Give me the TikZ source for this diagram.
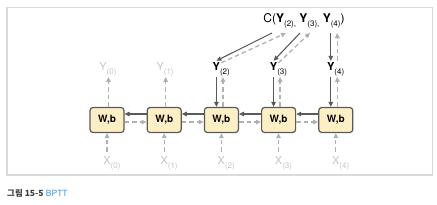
\documentclass[tikz,border=0pt]{standalone}
\usepackage{fontspec}
\setmainfont{TeX Gyre Heros}
\newfontfamily\krfont{Noto Sans CJK KR}
\usepackage{tikz}
\usetikzlibrary{
	positioning,
	arrows.meta
}
\definecolor{cellfill}{HTML}{FCEFC6}
\definecolor{celldraw}{HTML}{5A5A5A}
\definecolor{fwdgray}{HTML}{B0B0B0}
\definecolor{labelgray}{HTML}{C4C4C4}
\definecolor{framegray}{HTML}{DADADA}
\definecolor{capgray}{HTML}{3C3C3C}
\definecolor{capblue}{HTML}{3F8FD2}
\newcommand{\tidx}[1]{\raisebox{-4pt}{\fontsize{8}{9}\selectfont\mdseries #1}}

\begin{document}
\begin{tikzpicture}[
			x=1pt, y=-1pt,
			node distance=22pt,
			cell/.style={
				draw=celldraw,
				line width=1.2pt,
				rounded corners=3pt,
				fill=cellfill,
				minimum width=34pt,
				minimum height=25pt,
				inner sep=0pt,
				font=\fontsize{10}{12}\selectfont\bfseries
			},
			yout/.style={inner sep=1pt, anchor=base, font=\fontsize{11}{13}\selectfont\bfseries},
			faded/.style={inner sep=1pt, anchor=base, text=labelgray, font=\fontsize{11}{13}\selectfont},
			back/.style={-{Triangle[length=5pt,width=4.5pt]}, draw=celldraw, line width=1.1pt},
			fwd/.style={-{Triangle[length=5pt,width=4.5pt]}, draw=fwdgray, line width=1.3pt, dash pattern=on 4.5pt off 3pt}
			]
			
			\useasboundingbox (0,0) rectangle (437,204);
			\draw[draw=framegray, line width=1.5pt] (7,7.5) rectangle (432.5,175);
			
			\node[cell] (w0) at (107,120) {W,b};
			\node[cell,right=of w0] (w1) {W,b};
			\node[cell,right=of w1] (w2) {W,b};
			\node[cell,right=of w2] (w3) {W,b};
			\node[cell,right=of w3] (w4) {W,b};
			
			\node[faded] (x0) at (w0 |- 0,164) {X\rlap{\tidx{(0)}}};
			\node[faded] (x1) at (w1 |- 0,164) {X\rlap{\tidx{(1)}}};
			\node[faded] (x2) at (w2 |- 0,164) {X\rlap{\tidx{(2)}}};
			\node[faded] (x3) at (w3 |- 0,164) {X\rlap{\tidx{(3)}}};
			\node[faded] (x4) at (w4 |- 0,164) {X\rlap{\tidx{(4)}}};
			
			\node[faded] (y0) at ([xshift=-4pt]w0.north |- 0,70) {Y\rlap{\tidx{(0)}}};
			\node[faded] (y1) at ([xshift=-4pt]w1.north |- 0,70) {Y\rlap{\tidx{(1)}}};
			\node[yout] (y2) at ([xshift=-5pt]w2.north |- 0,70) {Y\rlap{\tidx{(2)}}};
			\node[yout] (y3) at ([xshift=-5pt]w3.north |- 0,70) {Y\rlap{\tidx{(3)}}};
			\node[yout] (y4) at ([xshift=-5pt]w4.north |- 0,70) {Y\rlap{\tidx{(4)}}};
			
			\node[inner sep=1pt, anchor=base, font=\fontsize{12}{14}\selectfont] (cost) at (304,22)
			{C(\textbf{Y}\tidx{(2),} \textbf{Y}\tidx{(3),} \textbf{Y}\tidx{(4)})};
			
			\coordinate (c2a) at (272,33);
			\coordinate (c2b) at (286,33);
			\coordinate (c3a) at (300,33);
			\coordinate (c3b) at (310,33);
			
			\draw[fwd,shorten <=3pt] (x0) -- (w0);
			\draw[fwd,shorten <=3pt] (x1) -- (w1);
			\draw[fwd,shorten <=3pt] (x2) -- (w2);
			\draw[fwd,shorten <=3pt] (x3) -- (w3);
			\draw[fwd,shorten <=3pt] (x4) -- (w4);
			
			\draw[fwd] ([xshift=1.5pt]w0.north) -- ([xshift=1.5pt]w0.north |- y0.south);
			\draw[fwd] ([xshift=1.5pt]w1.north) -- ([xshift=1.5pt]w1.north |- y1.south);
			\draw[fwd] ([xshift=1.5pt]w2.north) -- ([xshift=1.5pt]w2.north |- y2.south);
			\draw[fwd] ([xshift=1.5pt]w3.north) -- ([xshift=1.5pt]w3.north |- y3.south);
			\draw[fwd] ([xshift=1.5pt]w4.north) -- ([xshift=1.5pt]w4.north |- y4.south);
			
			\draw[back] (y2.south) -- (y2.south |- w2.north);
			\draw[back] (y3.south) -- (y3.south |- w3.north);
			\draw[back] (y4.south) -- (y4.south |- w4.north);
			
			\draw[fwd] ([yshift=-2pt]w0.east) -- ([yshift=-2pt]w1.west);
			\draw[fwd] ([yshift=-2pt]w1.east) -- ([yshift=-2pt]w2.west);
			\draw[fwd] ([yshift=-2pt]w2.east) -- ([yshift=-2pt]w3.west);
			\draw[fwd] ([yshift=-2pt]w3.east) -- ([yshift=-2pt]w4.west);
			
			\draw[back] ([yshift=6pt]w1.west) -- ([yshift=6pt]w0.east);
			\draw[back] ([yshift=6pt]w2.west) -- ([yshift=6pt]w1.east);
			\draw[back] ([yshift=6pt]w3.west) -- ([yshift=6pt]w2.east);
			\draw[back] ([yshift=6pt]w4.west) -- ([yshift=6pt]w3.east);
			
			\draw[back] (c2a) -- (y2.north);
			\draw[fwd] ([yshift=-2pt]y2.north east) -- (c2b);
			\draw[back] (c3a) -- (y3.north);
			\draw[fwd] ([yshift=-2pt]y3.north east) -- (c3b);
			\draw[back] (y4.north |- c2a) -- (y4.north);
			\draw[fwd] ([xshift=6.5pt]y4.north) -- ([xshift=6.5pt]y4.north |- c2a);
			
			\node[anchor=base west, inner sep=0pt, font=\fontsize{8.5}{10}\selectfont] (caption) at (7,196)
			{\textcolor{capgray}{\krfont\bfseries 그림 15-5} \textcolor{capblue}{BPTT}};
			
		\end{tikzpicture}
\end{document}
